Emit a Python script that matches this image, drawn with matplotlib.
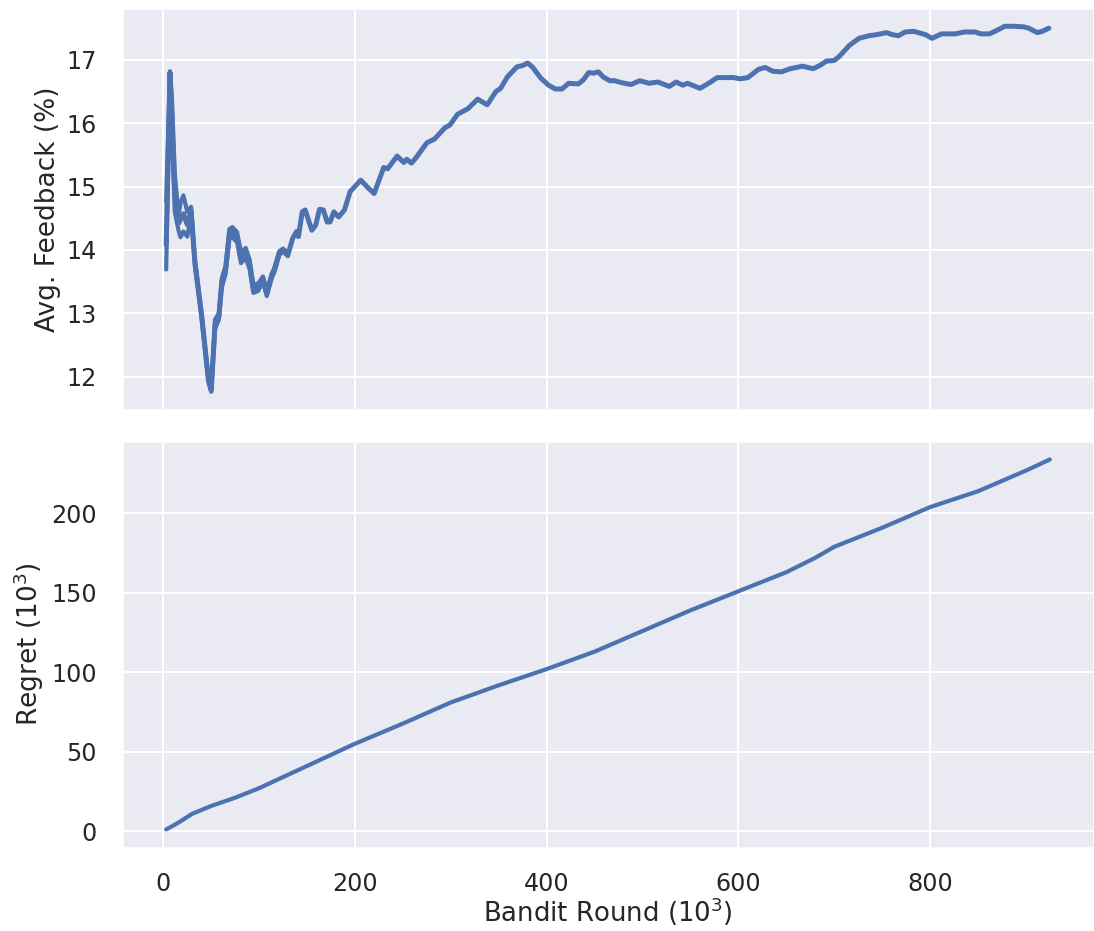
import matplotlib
matplotlib.use("Agg")
import matplotlib.pyplot as plt
import seaborn as sns

sns.set_theme(style="darkgrid", context="talk")

# avg feedback (%) vs bandit round (10^3)
rounds = [3, 7, 9, 12, 16, 18, 21, 25, 29, 33, 40, 47, 50, 54, 58, 61, 65, 69, 72, 77,
          81, 86, 90, 94, 99, 104, 108, 113, 116, 121, 125, 130, 135, 139, 141, 145, 148,
          155, 159, 163, 167, 171, 174, 178, 183, 189, 195, 206, 213, 220, 230, 234, 244,
          251, 254, 259, 264, 275, 283, 294, 299, 307, 318, 328, 338, 347, 352, 359, 369,
          375, 380, 385, 394, 402, 409, 416, 423, 433, 438, 444, 449, 454, 459, 466, 471,
          478, 488, 497, 507, 516, 528, 535, 542, 547, 560, 569, 578, 595, 602, 610, 621,
          628, 636, 645, 654, 667, 678, 685, 692, 700, 705, 716, 726, 736, 745, 755, 760,
          767, 774, 783, 795, 802, 812, 826, 836, 847, 853, 862, 869, 878, 888, 898, 903,
          912, 917, 924]
feedback = [14.08, 16.80, 16.10, 14.90, 14.42, 14.48, 14.57, 14.40, 14.62, 13.80, 12.96,
            11.96, 11.78, 12.83, 12.95, 13.48, 13.69, 14.26, 14.28, 14.20, 13.88, 13.95,
            13.78, 13.39, 13.41, 13.54, 13.31, 13.58, 13.69, 13.95, 14.00, 13.92, 14.18,
            14.29, 14.21, 14.60, 14.63, 14.31, 14.39, 14.64, 14.63, 14.44, 14.44, 14.60,
            14.52, 14.63, 14.92, 15.10, 14.99, 14.89, 15.30, 15.28, 15.48, 15.38, 15.43,
            15.37, 15.46, 15.69, 15.75, 15.93, 15.97, 16.14, 16.23, 16.38, 16.29, 16.50,
            16.55, 16.73, 16.89, 16.91, 16.95, 16.89, 16.71, 16.60, 16.54, 16.54, 16.63,
            16.62, 16.68, 16.80, 16.79, 16.81, 16.73, 16.67, 16.67, 16.64, 16.61, 16.67,
            16.63, 16.65, 16.58, 16.65, 16.60, 16.63, 16.55, 16.63, 16.72, 16.72, 16.70,
            16.72, 16.85, 16.88, 16.82, 16.81, 16.86, 16.90, 16.86, 16.91, 16.98, 16.99,
            17.05, 17.23, 17.34, 17.38, 17.40, 17.43, 17.40, 17.38, 17.44, 17.45, 17.40,
            17.34, 17.41, 17.41, 17.44, 17.44, 17.41, 17.41, 17.46, 17.53, 17.53, 17.52,
            17.50, 17.43, 17.45, 17.50]

# spread of the runs in the early rounds
band_rounds = [3, 7, 9, 12, 16, 18, 21, 25, 29, 33, 40, 47, 50, 54, 58, 61, 65, 69, 72,
               77, 81, 86, 90, 94, 99, 104, 108, 113, 116, 121, 125, 130]
band_hi = [14.76, 16.82, 16.40, 15.20, 14.55, 14.75, 14.86, 14.60, 14.68, 13.85, 13.00,
           12.00, 11.80, 12.90, 13.00, 13.55, 13.75, 14.33, 14.36, 14.28, 13.97, 14.03,
           13.85, 13.45, 13.47, 13.58, 13.35, 13.62, 13.72, 13.98, 14.02, 13.95]
band_lo = [13.69, 16.75, 15.80, 14.60, 14.30, 14.20, 14.29, 14.21, 14.55, 13.75, 12.92,
           11.92, 11.76, 12.75, 12.90, 13.40, 13.62, 14.18, 14.20, 14.12, 13.79, 13.87,
           13.70, 13.32, 13.35, 13.50, 13.27, 13.55, 13.65, 13.92, 13.97, 13.90]

# cumulative regret (10^3)
regret_rounds = [3, 15, 30, 50, 75, 100, 150, 200, 250, 300, 350, 400, 450, 500, 550,
                 600, 650, 680, 700, 750, 800, 850, 900, 925]
regret = [1, 5, 10.8, 15.8, 21, 27, 41, 55, 67.7, 81, 91.8, 102, 113, 126, 139, 151,
          163, 172, 179, 191, 204, 214, 227, 234]

color = sns.color_palette("deep")[0]

fig = plt.figure(figsize=(10.94, 9.31), dpi=100)
ax1 = fig.add_axes([0.1115, 0.5596, 0.8885, 0.4318])
ax2 = fig.add_axes([0.1115, 0.0892, 0.8885, 0.4371], sharex=ax1)

ax1.plot(band_rounds, band_hi, color=color, lw=3)
ax1.plot(band_rounds, band_lo, color=color, lw=3)
ax1.plot(rounds, feedback, color=color, lw=3.6)
ax1.set_ylabel("Avg. Feedback (%)", fontsize=19)
ax1.set_yticks([12, 13, 14, 15, 16, 17])
plt.setp(ax1.get_xticklabels(), visible=False)

ax2.plot(regret_rounds, regret, color=color, lw=3)
ax2.set_ylabel("Regret ($10^3$)", fontsize=19)
ax2.set_xlabel("Bandit Round ($10^3$)", fontsize=18.7, labelpad=0)
ax2.set_xticks([0, 200, 400, 600, 800])
ax2.set_yticks([0, 50, 100, 150, 200])

for ax in (ax1, ax2):
    ax.tick_params(labelsize=17.2, pad=9)
ax2.tick_params(axis="x", pad=8)

fig.savefig("out.png", dpi=100)
